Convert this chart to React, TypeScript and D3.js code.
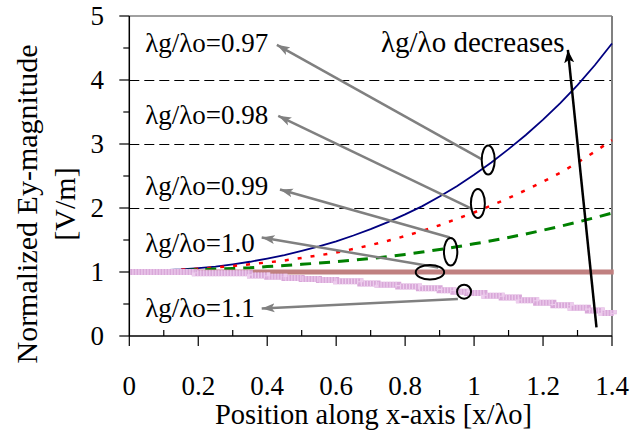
import React from "react";
import * as d3 from "d3";

// ---- data ----
const xPos = [0, 0.05, 0.1, 0.15, 0.2, 0.25, 0.3, 0.35, 0.4, 0.45, 0.5, 0.55, 0.6, 0.65, 0.7, 0.75, 0.8, 0.85, 0.9, 0.95, 1.0, 1.05, 1.1, 1.15, 1.2, 1.25, 1.3, 1.35, 1.4];
const ratio097 = [1.0, 1.01, 1.03, 1.04, 1.06, 1.085, 1.12, 1.16, 1.21, 1.265, 1.33, 1.4, 1.48, 1.57, 1.67, 1.78, 1.9, 2.03, 2.18, 2.34, 2.52, 2.71, 2.92, 3.14, 3.38, 3.64, 3.92, 4.23, 4.57];
const ratio098 = [1.0, 1.008, 1.02, 1.035, 1.05, 1.07, 1.095, 1.12, 1.15, 1.18, 1.22, 1.26, 1.305, 1.36, 1.421, 1.488, 1.562, 1.643, 1.731, 1.83, 1.93, 2.04, 2.155, 2.28, 2.41, 2.55, 2.71, 2.88, 3.06];
const ratio099 = [1.0, 1.005, 1.015, 1.025, 1.035, 1.045, 1.055, 1.065, 1.085, 1.1, 1.12, 1.14, 1.16, 1.185, 1.21, 1.241, 1.275, 1.312, 1.352, 1.394, 1.44, 1.488, 1.54, 1.595, 1.653, 1.715, 1.78, 1.849, 1.92];
const ratio10X = [0, 1.405];
const ratio10 = [1.0, 1.0];
const ratio11X = [0, 0.19, 0.35, 0.4, 0.45, 0.5, 0.55, 0.6, 0.67, 0.72, 0.78, 0.84, 0.9, 0.94, 0.98, 1.03, 1.08, 1.13, 1.18, 1.23, 1.28, 1.33, 1.37, 1.405];
const ratio11 = [1.0, 0.982, 0.945, 0.925, 0.905, 0.89, 0.875, 0.855, 0.82, 0.8, 0.775, 0.745, 0.715, 0.69, 0.67, 0.63, 0.6, 0.56, 0.52, 0.48, 0.44, 0.4, 0.36, 0.34];

const xTicks = [0, 0.2, 0.4, 0.6, 0.8, 1, 1.2, 1.4];
const xMinor = [0.1, 0.3, 0.5, 0.7, 0.9, 1.1, 1.3];
const yTicks = [0, 1, 2, 3, 4, 5];
const yMinor = [0.5, 1.5, 2.5, 3.5, 4.5];
const gridY = [1, 2, 3, 4];

// annotations in data units: label text, label anchor (x, baseline y), arrow tip, arrow tail
const labelTexts = ["λg/λo=0.97", "λg/λo=0.98", "λg/λo=0.99", "λg/λo=1.0", "λg/λo=1.1"];
const labelX = [0.046, 0.046, 0.046, 0.046, 0.046];
const labelY = [4.43, 3.31, 2.2, 1.31, 0.29];
const tipX = [0.428, 0.432, 0.437, 0.384, 0.384];
const tipY = [4.55, 3.44, 2.29, 1.54, 0.43];
const tailX = [1.023, 0.997, 0.93, 0.896, 0.953];
const tailY = [2.76, 1.98, 1.54, 1.07, 0.58];
const ellCX = [1.041, 1.011, 0.932, 0.872, 0.971];
const ellCY = [2.75, 2.07, 1.317, 0.995, 0.692];
const ellRX = [6.5, 7, 6.7, 14.2, 7];
const ellRY = [14.5, 14.5, 13.8, 7.2, 7];
const decText = "λg/λo decreases";
const decTextPos = [0.73, 4.44];
const decTail = [1.355, 0.135];
const decTip = [1.272, 4.47];

const W = 643, H = 434;
const x = d3.scaleLinear().domain([0, 1.4]).range([129.3, 612]);
const y = d3.scaleLinear().domain([0, 5]).range([336, 16]);
const FONT = "Liberation Serif, DejaVu Serif, Times New Roman, serif";

const lineXY = d3.line<[number, number]>().x(d => x(d[0])).y(d => y(d[1]));
const stepXY = d3.line<[number, number]>().x(d => x(d[0])).y(d => y(d[1])).curve(d3.curveStepAfter);

const crisp = (v: number) => Math.round(v) + 0.5;

export default function App() {
  const z = (xs: number[], ys: number[]) => xs.map((v, i) => [v, ys[i]] as [number, number]);
  const [x0, x1] = x.range();
  const [y0, y1] = y.range();
  const ts = { fontFamily: FONT };
  return (
    <svg width={W} height={H} style={{ position: "absolute", left: 0, top: 0, background: "#fff", fontFamily: FONT }}>
      <defs>
        <marker id="grayHead" markerUnits="userSpaceOnUse" markerWidth="14" markerHeight="10" refX="13" refY="5" orient="auto">
          <path d="M0,0.5 L13,5 L0,9.5 L3,5 Z" fill="#808080" />
        </marker>
        <marker id="blackHead" markerUnits="userSpaceOnUse" markerWidth="14" markerHeight="12" refX="13" refY="6" orient="auto">
          <path d="M0,1 L13,6 L0,11 L3,6 Z" fill="#000" />
        </marker>
      </defs>
      {/* gridlines */}
      {gridY.map(v => (
        <line key={"g" + v} x1={x0} x2={x1} y1={crisp(y(v))} y2={crisp(y(v))} stroke="#000" strokeWidth={1} strokeDasharray="10,5" />
      ))}
      {/* frame */}
      <line x1={x0} x2={x1} y1={y(5)} y2={y(5)} stroke="#808080" strokeWidth={1.5} />
      <line x1={x1} x2={x1} y1={y1} y2={y0} stroke="#808080" strokeWidth={2} />
      {/* series */}
      <path d={lineXY(z(xPos, ratio097)) || ""} fill="none" stroke="#000080" strokeWidth={1.8} />
      <path d={lineXY(z(xPos, ratio098)) || ""} fill="none" stroke="#FF0000" strokeWidth={2.5} strokeDasharray="4,9" />
      <path d={lineXY(z(xPos, ratio099)) || ""} fill="none" stroke="#008000" strokeWidth={3} strokeDasharray="11,8" />
      <path d={lineXY(z(ratio10X, ratio10)) || ""} fill="none" stroke="#C08080" strokeWidth={5} />
      <path d={stepXY(z(ratio11X, ratio11)) || ""} fill="none" stroke="#D9A8D9" strokeWidth={6} />
      <path d={stepXY(z(ratio11X, ratio11)) || ""} fill="none" stroke="#EDCDED" strokeWidth={6} strokeDasharray="1.2,1.8" />
      {/* axes */}
      <line x1={x0} x2={x0} y1={y1} y2={y0} stroke="#000" strokeWidth={1.5} />
      <line x1={x0} x2={x1} y1={y0} y2={y0} stroke="#000" strokeWidth={1.5} />
      {xTicks.map(v => (
        <g key={"xt" + v}>
          <line x1={x(v)} x2={x(v)} y1={y0} y2={y0 + 10} stroke="#000" strokeWidth={1.2} />
          <text style={ts} x={x(v)} y={395} fontSize={27} textAnchor="middle">{String(v)}</text>
        </g>
      ))}
      {xMinor.map(v => (
        <line key={"xm" + v} x1={x(v)} x2={x(v)} y1={y0} y2={y0 - 6} stroke="#000" strokeWidth={1.2} />
      ))}
      {yTicks.map(v => (
        <g key={"yt" + v}>
          <line x1={x0 - 10} x2={x0} y1={y(v)} y2={y(v)} stroke="#000" strokeWidth={1.2} />
          <text style={ts} x={104} y={y(v) + 9} fontSize={27} textAnchor="end">{String(v)}</text>
        </g>
      ))}
      {yMinor.map(v => (
        <line key={"ym" + v} x1={x0 - 6} x2={x0} y1={y(v)} y2={y(v)} stroke="#000" strokeWidth={1.2} />
      ))}
      {/* axis titles */}
      <text style={ts} x={373.5} y={424} fontSize={28.5} textAnchor="middle">Position along x-axis [x/λo]</text>
      <g transform="translate(37,204) rotate(-90)">
        <text style={ts} x={0} y={0} fontSize={30} textAnchor="middle">Normalized Ey-magnitude</text>
        <text style={ts} x={0} y={38} fontSize={30} textAnchor="middle">[V/m]</text>
      </g>
      {/* annotations */}
      {labelTexts.map((t, i) => (
        <g key={"lab" + i}>
          <text style={ts} x={x(labelX[i])} y={y(labelY[i])} fontSize={27}>{t}</text>
          <line x1={x(tailX[i])} y1={y(tailY[i])} x2={x(tipX[i])} y2={y(tipY[i])} stroke="#808080" strokeWidth={2.5} markerEnd="url(#grayHead)" />
          <ellipse cx={x(ellCX[i])} cy={y(ellCY[i])} rx={ellRX[i]} ry={ellRY[i]} fill="none" stroke="#000" strokeWidth={2} />
        </g>
      ))}
      <text style={ts} x={x(decTextPos[0])} y={y(decTextPos[1])} fontSize={29}>{decText}</text>
      <line x1={x(decTail[0])} y1={y(decTail[1])} x2={x(decTip[0])} y2={y(decTip[1])} stroke="#000" strokeWidth={2.5} markerEnd="url(#blackHead)" />
    </svg>
  );
}
